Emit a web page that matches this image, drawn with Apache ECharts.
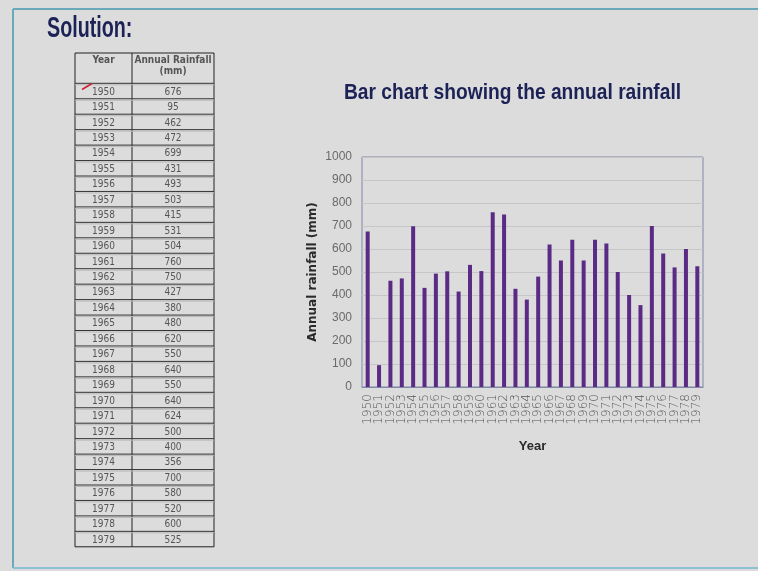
<!DOCTYPE html>
<html>
<head>
<meta charset="utf-8">
<style>
  html, body { margin: 0; padding: 0; background: #dcdcdd; }
  #chart { width: 758px; height: 571px; }
</style>
<script src="https://cdn.jsdelivr.net/npm/echarts@6/dist/echarts.min.js"></script>
</head>
<body>
<div id="chart"></div>
<script>
// Annual rainfall records
const years = ['1950','1951','1952','1953','1954','1955','1956','1957','1958','1959',
               '1960','1961','1962','1963','1964','1965','1966','1967','1968','1969',
               '1970','1971','1972','1973','1974','1975','1976','1977','1978','1979'];
const rainfall = [676, 95, 462, 472, 699, 431, 493, 503, 415, 531,
                  504, 760, 750, 427, 380, 480, 620, 550, 640, 550,
                  640, 624, 500, 400, 356, 700, 580, 520, 600, 525];
const tableHeaders = ['Year', 'Annual Rainfall\n(mm)'];

const narrow = '"Liberation Sans Narrow", "DejaVu Sans Condensed", "Liberation Sans", sans-serif';
const sans = '"Liberation Sans", Arial, sans-serif';
const dejavu = '"DejaVu Sans", sans-serif';

// Table of values on the left, built from the same arrays
const tbl = { left: 75, right: 214, mid: 132, top: 53, headBottom: 83.3, row: 15.45 };
const graphics = [];

// slide frame
graphics.push({ type: 'line', shape: { x1: 13, y1: 9, x2: 758, y2: 9 }, style: { stroke: '#6aa9b9', lineWidth: 2 } });
graphics.push({ type: 'line', shape: { x1: 13, y1: 9, x2: 13, y2: 568 }, style: { stroke: '#6aa9b9', lineWidth: 2 } });
graphics.push({ type: 'line', shape: { x1: 13, y1: 568, x2: 758, y2: 568 }, style: { stroke: '#8cc0d2', lineWidth: 2 } });

// slide heading
graphics.push({ type: 'text', x: 47, y: 28.5, scaleX: 0.68,
  style: { text: 'Solution:', font: 'bold 29px ' + sans, fill: '#1c2255', textAlign: 'left', textVerticalAlign: 'middle' } });

// chart title
graphics.push({ type: 'text', x: 512.5, y: 93, scaleX: 0.873,
  style: { text: 'Bar chart showing the annual rainfall', font: 'bold 22px ' + sans, fill: '#1c2255', textAlign: 'center', textVerticalAlign: 'middle' } });

const tableBottom = tbl.headBottom + tbl.row * years.length;
graphics.push({ type: 'rect', shape: { x: tbl.left, y: tbl.top, width: tbl.right - tbl.left, height: tableBottom - tbl.top },
  style: { fill: 'none', stroke: '#222', lineWidth: 1 } });
graphics.push({ type: 'line', shape: { x1: tbl.mid, y1: tbl.top, x2: tbl.mid, y2: tableBottom }, style: { stroke: '#222', lineWidth: 1 } });
graphics.push({ type: 'text', x: (tbl.left + tbl.mid) / 2, y: tbl.top + 2,
  style: { text: tableHeaders[0], font: 'bold 10px ' + narrow, fill: '#555', textAlign: 'center', textVerticalAlign: 'top' } });
graphics.push({ type: 'text', x: (tbl.mid + tbl.right) / 2, y: tbl.top + 2,
  style: { text: tableHeaders[1], font: 'bold 10px ' + narrow, fill: '#555', textAlign: 'center', textVerticalAlign: 'top', lineHeight: 11 } });

years.forEach((y, i) => {
  const top = tbl.headBottom + tbl.row * i;
  graphics.push({ type: 'line', shape: { x1: tbl.left, y1: top, x2: tbl.right, y2: top }, style: { stroke: '#333', lineWidth: 1 } });
  graphics.push({ type: 'line', shape: { x1: tbl.left, y1: top + 1.5, x2: tbl.right, y2: top + 1.5 }, style: { stroke: '#b8b8b8', lineWidth: 1 } });
  graphics.push({ type: 'text', x: (tbl.left + tbl.mid) / 2, y: top + tbl.row / 2 + 1,
    style: { text: y, font: '10px ' + narrow, fill: '#555', textAlign: 'center', textVerticalAlign: 'middle' } });
  graphics.push({ type: 'text', x: (tbl.mid + tbl.right) / 2, y: top + tbl.row / 2 + 1,
    style: { text: String(rainfall[i]), font: '10px ' + narrow, fill: '#555', textAlign: 'center', textVerticalAlign: 'middle' } });
});
// red tick mark beside the first entry
graphics.push({ type: 'line', shape: { x1: 82, y1: 89.5, x2: 92, y2: 83.5 }, style: { stroke: '#d02030', lineWidth: 1.5 } });

const chart = echarts.init(document.getElementById('chart'));
chart.setOption({
  backgroundColor: '#dcdcdd',
  animation: false,
  grid: {
    left: 362, top: 157, width: 341, height: 230,
    show: true, borderColor: '#7f86a6', borderWidth: 1, backgroundColor: 'transparent'
  },
  xAxis: {
    type: 'category',
    data: years,
    name: 'Year',
    nameLocation: 'middle',
    nameGap: 53,
    nameTextStyle: { fontFamily: sans, fontWeight: 'bold', fontSize: 13, color: '#2a2a2a' },
    axisLine: { show: true, lineStyle: { color: '#7f86a6' } },
    axisTick: { show: false },
    axisLabel: { interval: 0, rotate: 90, fontSize: 12, fontWeight: 200, fontFamily: dejavu, color: '#555', margin: 7 }
  },
  yAxis: {
    type: 'value',
    min: 0, max: 1000, interval: 100,
    name: 'Annual rainfall (mm)',
    nameLocation: 'middle',
    nameGap: 43,
    nameTextStyle: { fontFamily: dejavu, fontWeight: 'bold', fontSize: 12, color: '#2a2a2a' },
    axisLine: { show: false },
    axisTick: { show: false },
    axisLabel: { fontSize: 12, fontFamily: sans, color: '#6a6a6a', margin: 10, formatter: v => String(v) },
    splitLine: { lineStyle: { color: '#c6c6c8', width: 1 } }
  },
  series: [{
    type: 'bar',
    data: rainfall,
    barWidth: 4,
    itemStyle: { color: '#5a2a84' }
  }],
  graphic: graphics
});
</script>
</body>
</html>
